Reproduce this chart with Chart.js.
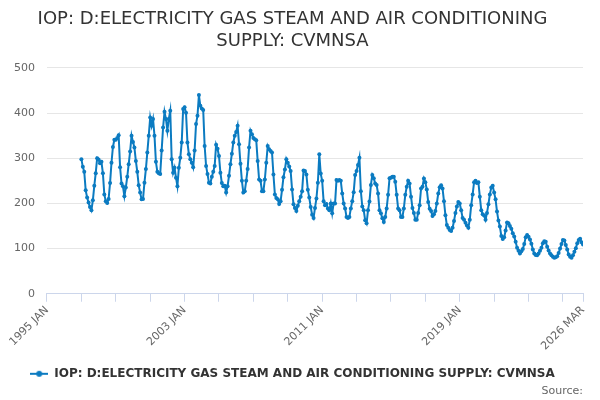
<!DOCTYPE html>
<html>
<head>
<meta charset="utf-8">
<title>IOP: D:ELECTRICITY GAS STEAM AND AIR CONDITIONING SUPPLY: CVMNSA</title>
<script src="https://cdn.jsdelivr.net/npm/chart.js@4.4.1/dist/chart.umd.min.js"></script>
<style>
  html, body { margin: 0; padding: 0; background: #fff; }
  #wrap { width: 600px; height: 400px; }
</style>
</head>
<body>
<div id="wrap"><canvas id="iopChart"></canvas></div>
<script>
// Series: monthly index values, Jan 1997 .. Mar 2026 (one row per year)
const startYear = 1997;
const axisStartYear = 1995;
const values = [
    298, 281, 270, 229, 213, 202, 192, 185, 207, 239, 267, 300, // 1997
    297, 289, 292, 267, 220, 205, 201, 210, 245, 290, 325, 341, // 1998
    341, 345, 351, 280, 244, 238, 216, 235, 259, 287, 315, 350, // 1999
    336, 324, 294, 270, 240, 224, 209, 210, 246, 276, 313, 350, // 2000
    390, 372, 387, 350, 292, 270, 267, 265, 317, 368, 403, 387, // 2001
    361, 387, 405, 298, 268, 279, 257, 238, 279, 301, 335, 409, // 2002
    413, 401, 335, 309, 298, 290, 280, 317, 376, 394, 440, 416, // 2003
    410, 407, 327, 283, 265, 246, 244, 259, 270, 283, 330, 321, // 2004
    305, 268, 245, 238, 239, 224, 238, 261, 287, 310, 335, 350, // 2005
    358, 372, 331, 288, 250, 224, 227, 250, 276, 324, 361, 353, // 2006
    345, 342, 340, 294, 253, 250, 227, 227, 253, 290, 327, 320, // 2007
    316, 313, 264, 220, 212, 209, 199, 205, 230, 258, 275, 298, // 2008
    290, 282, 272, 231, 198, 190, 183, 195, 205, 215, 227, 273, // 2009
    272, 264, 230, 213, 192, 175, 168, 190, 211, 246, 309, 266, // 2010
    250, 205, 196, 199, 189, 185, 200, 178, 200, 200, 252, 250, // 2011
    252, 250, 222, 200, 189, 170, 168, 170, 189, 205, 225, 263, // 2012
    272, 285, 301, 227, 193, 185, 163, 156, 185, 204, 241, 263, // 2013
    256, 244, 241, 222, 185, 178, 167, 159, 170, 189, 219, 256, // 2014
    257, 259, 259, 248, 219, 189, 185, 170, 170, 189, 219, 237, // 2015
    250, 244, 215, 190, 179, 164, 164, 179, 196, 233, 237, 255, // 2016
    247, 231, 203, 188, 183, 172, 176, 183, 200, 222, 236, 240, // 2017
    233, 205, 174, 152, 146, 141, 139, 146, 161, 179, 193, 203, // 2018
    200, 185, 168, 164, 157, 151, 146, 164, 196, 220, 247, 250, // 2019
    245, 247, 215, 185, 176, 173, 164, 179, 198, 220, 235, 239, // 2020
    224, 209, 182, 162, 149, 128, 121, 125, 140, 158, 156, 150, // 2021
    144, 134, 127, 115, 102,  95,  89,  94,  99, 110, 125, 130, // 2022
    126, 120, 111,  98,  89,  86,  85,  89,  95, 102, 112, 116, // 2023
    115, 104,  96,  89,  85,  82,  80,  81,  83,  90, 100, 110, // 2024
    119, 118, 108,  98,  87,  82,  80,  85,  93, 101, 112, 119, // 2025
    122, 114, 109                                               // 2026
];

// X axis: months counted from Jan 1995, tick every two years plus the last month
const tickMonths = [0, 24, 48, 72, 96, 120, 144, 168, 192, 216, 240, 264, 288, 312, 336, 360, 374];
const labelMonths = [0, 96, 192, 288, 374];
const tickLabels = ['1995 JAN', '2003 JAN', '2011 JAN', '2019 JAN', '2026 MAR'];

const yTicks = [0, 100, 200, 300, 400, 500];

const seriesName = 'IOP: D:ELECTRICITY GAS STEAM AND AIR CONDITIONING SUPPLY: CVMNSA';
const lineColor = '#0b7bc1';

const offset = (startYear - axisStartYear) * 12;
const points = values.map((v, i) => ({ x: offset + i, y: v }));

// legend symbol: short line with a dot
function legendSymbol() {
    const c = document.createElement('canvas');
    c.width = 18;
    c.height = 8;
    const g = c.getContext('2d');
    g.strokeStyle = lineColor;
    g.lineWidth = 2;
    g.beginPath();
    g.moveTo(0, 4);
    g.lineTo(18, 4);
    g.stroke();
    g.fillStyle = lineColor;
    g.beginPath();
    g.arc(9, 4, 3, 0, Math.PI * 2);
    g.fill();
    return c;
}

Chart.defaults.font.family = "'DejaVu Sans', sans-serif";

document.addEventListener('DOMContentLoaded', function() {
    const ctx = document.getElementById('iopChart').getContext('2d');
    const symbol = legendSymbol();

    new Chart(ctx, {
        type: 'line',
        data: {
            datasets: [{
                label: seriesName,
                data: points,
                borderColor: lineColor,
                backgroundColor: lineColor,
                borderWidth: 2,
                pointRadius: 2,
                pointHoverRadius: 3,
                pointBorderWidth: 0,
                tension: 0,
                fill: false
            }]
        },
        options: {
            responsive: true,
            maintainAspectRatio: false,
            animation: false,
            layout: {
                padding: { left: 2, right: 17, top: 0, bottom: 0 }
            },
            plugins: {
                title: {
                    display: true,
                    text: ['IOP: D:ELECTRICITY GAS STEAM AND AIR CONDITIONING', 'SUPPLY: CVMNSA'],
                    color: '#333333',
                    font: { size: 18, weight: 'normal', lineHeight: 1.22 },
                    padding: { top: 8, bottom: 16 }
                },
                subtitle: {
                    display: true,
                    text: 'Source:',
                    position: 'bottom',
                    align: 'end',
                    color: '#666666',
                    font: { size: 11, weight: 'normal' },
                    padding: { top: -5, bottom: 2 }
                },
                legend: {
                    display: true,
                    position: 'bottom',
                    labels: {
                        color: '#333333',
                        font: { size: 12, weight: 'bold' },
                        usePointStyle: true,
                        pointStyleWidth: 18,
                        padding: 13,
                        generateLabels: function(chart) {
                            return chart.data.datasets.map((ds, i) => ({
                                text: ds.label,
                                fontColor: '#333333',
                                pointStyle: symbol,
                                strokeStyle: lineColor,
                                fillStyle: lineColor,
                                lineWidth: 0,
                                datasetIndex: i
                            }));
                        }
                    }
                },
                tooltip: { enabled: false }
            },
            scales: {
                x: {
                    type: 'linear',
                    min: 0,
                    max: 374,
                    afterBuildTicks: function(axis) {
                        axis.ticks = tickMonths.map(v => ({ value: v }));
                    },
                    ticks: {
                        autoSkip: false,
                        minRotation: 45,
                        maxRotation: 45,
                        color: '#666666',
                        font: { size: 11 },
                        padding: 2,
                        callback: function(value) {
                            const k = labelMonths.indexOf(value);
                            return k >= 0 ? tickLabels[k] : '';
                        }
                    },
                    grid: {
                        drawOnChartArea: false,
                        drawTicks: true,
                        tickLength: 8,
                        color: '#ccd6eb'
                    },
                    border: { display: true, color: '#ccd6eb' }
                },
                y: {
                    min: 0,
                    max: 500,
                    afterBuildTicks: function(axis) {
                        axis.ticks = yTicks.map(v => ({ value: v }));
                    },
                    ticks: {
                        color: '#666666',
                        font: { size: 11 },
                        padding: 12
                    },
                    grid: {
                        color: '#e6e6e6',
                        drawTicks: false
                    },
                    border: { display: false }
                }
            }
        }
    });
});
</script>
</body>
</html>
